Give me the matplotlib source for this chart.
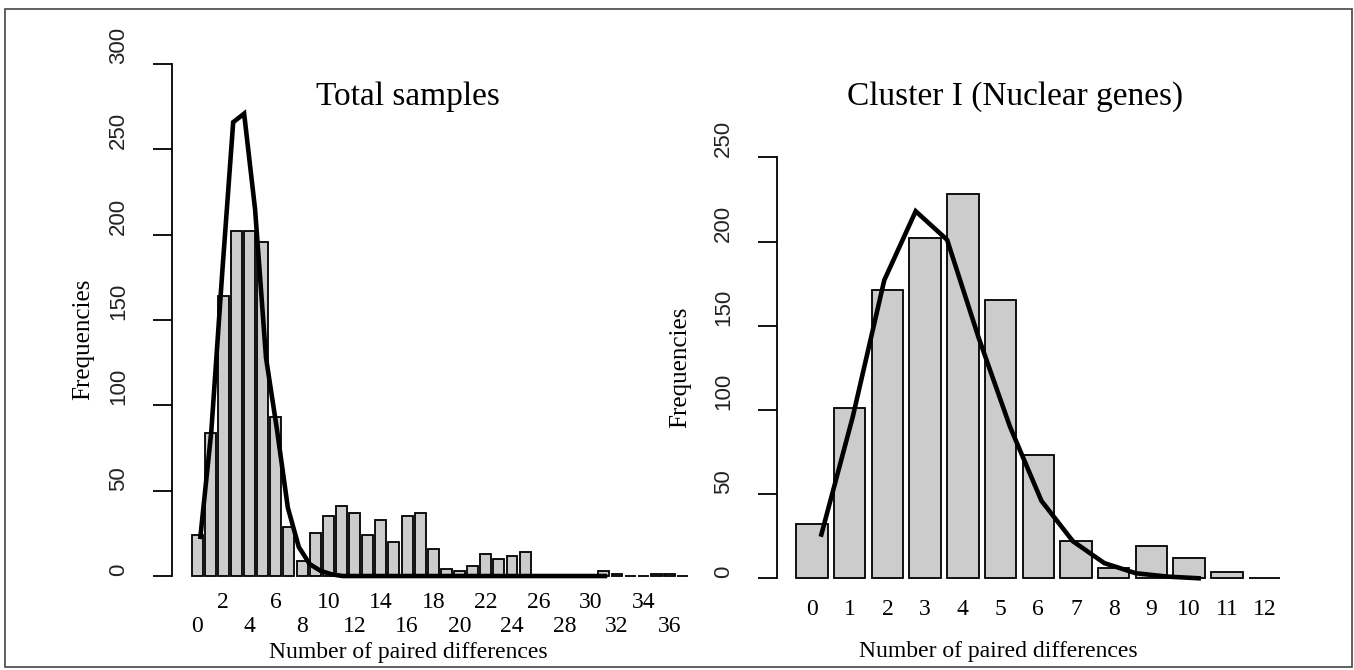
import numpy as np
from matplotlib import pyplot as plt
from matplotlib.patches import Rectangle

plt.rcParams['font.family'] = 'Liberation Serif'

# observed frequencies, total samples (0..37 differences)
total_obs = [24, 84, 164, 202, 202, 196, 93, 29, 9, 25, 35, 41, 37, 24, 33, 20,
             35, 37, 16, 4, 3, 6, 13, 10, 12, 14, 0, 0, 0, 0, 0, 3, 1, 0, 0, 1, 1, 0]
# expected frequencies (model line)
total_exp = [23, 85, 178, 266, 271, 215, 128, 86, 40, 17, 7, 3, 1, 0, 0, 0, 0, 0, 0,
             0, 0, 0, 0, 0, 0, 0, 0, 0, 0, 0, 0, 0, 0, 0, 0, 0, 0, 0]
total_upper = [2, 6, 10, 14, 18, 22, 26, 30, 34]
total_lower = [0, 4, 8, 12, 16, 20, 24, 28, 32, 36]

# cluster I (nuclear genes), 0..12 differences
clus_obs = [32, 101, 171, 202, 228, 165, 73, 22, 6, 19, 12, 4, 0]
clus_exp = [26, 96, 177, 218, 201, 143, 90, 46, 22, 9, 3, 1, 0]
clus_ticks = list(range(13))

W, H = 1354, 670
fig = plt.figure(figsize=(W / 100, H / 100), dpi=100)
fig.patches.append(Rectangle((5 / W, 3 / H), 1347 / W, 658 / H, transform=fig.transFigure,
                             fill=False, edgecolor='#444444', linewidth=1.2))


def px_axes(x0, x1, y0, y1):
    # pixel box (top-left origin) -> figure axes
    return fig.add_axes([x0 / W, 1 - y1 / H, (x1 - x0) / W, (y1 - y0) / H])


def barpanel(ax, obs, exp, ymax, ystep):
    n = len(obs)
    mids = 0.7 + 1.2 * np.arange(n)
    ax.bar(mids, obs, width=1.0, color='#cccccc', edgecolor='black', linewidth=1.3)
    ax.plot(np.arange(1, n + 1), exp, color='black', linewidth=3.3, solid_joinstyle='miter')
    r = 1.2 * n
    ax.set_xlim(0.2 - 0.04 * r, 0.2 + r - 0.2 + 0.04 * r)
    ax.set_ylim(-0.04 * ymax, 1.04 * ymax)
    for s in ['top', 'right', 'bottom']:
        ax.spines[s].set_visible(False)
    ax.spines['left'].set_bounds(0, ymax)
    ax.spines['left'].set_linewidth(1.3)
    ax.set_yticks(np.arange(0, ymax + 1, ystep))
    ax.tick_params(axis='y', direction='out', length=13.5, width=1.3, pad=17, labelsize=16,
                   labelrotation=90)
    for t in ax.get_yticklabels():
        t.set_family('Liberation Sans')
        t.set_color('#222222')
        t.set_va('bottom')
    return mids


ax1 = px_axes(171.7, 708, 43.7, 596.5)
m1 = barpanel(ax1, total_obs, total_exp, 300, 50)
ax1.set_xticks(m1[total_upper])
ax1.set_xticklabels([str(v) for v in total_upper])
ax1.set_xticks(m1[total_lower], minor=True)
ax1.set_xticklabels([str(v) for v in total_lower], minor=True)
ax1.tick_params(axis='x', which='major', length=0, pad=-3, labelsize=17)
ax1.tick_params(axis='x', which='minor', length=0, pad=14, labelsize=17)
ax1.text(0.44, 0.9036, 'Total samples', transform=ax1.transAxes, ha='center', va='center',
         fontsize=24)
ax1.set_xlabel('Number of paired differences', fontsize=17)
ax1.xaxis.set_label_coords(0.4406, -0.1004)
ax1.xaxis.label.set_va('center')
ax1.set_ylabel('Frequencies', fontsize=18)
ax1.yaxis.set_label_coords(-0.1654, 0.465)
ax1.yaxis.label.set_va('center')

ax2 = px_axes(776.6, 1300, 140.5, 595.1)
m2 = barpanel(ax2, clus_obs, clus_exp, 250, 50)
ax2.set_xticks(m2)
ax2.set_xticklabels([str(v) for v in clus_ticks])
ax2.tick_params(axis='x', length=0, pad=3, labelsize=17)
ax2.text(0.455, 1.0957, 'Cluster I (Nuclear genes)', transform=ax2.transAxes, ha='center',
         va='center', fontsize=24)
ax2.set_xlabel('Number of paired differences', fontsize=17)
ax2.xaxis.set_label_coords(0.423, -0.125)
ax2.xaxis.label.set_va('center')
ax2.set_ylabel('Frequencies', fontsize=18)
ax2.yaxis.set_label_coords(-0.1846, 0.5)
ax2.yaxis.label.set_va('center')

fig.savefig('out.png', dpi=100)
